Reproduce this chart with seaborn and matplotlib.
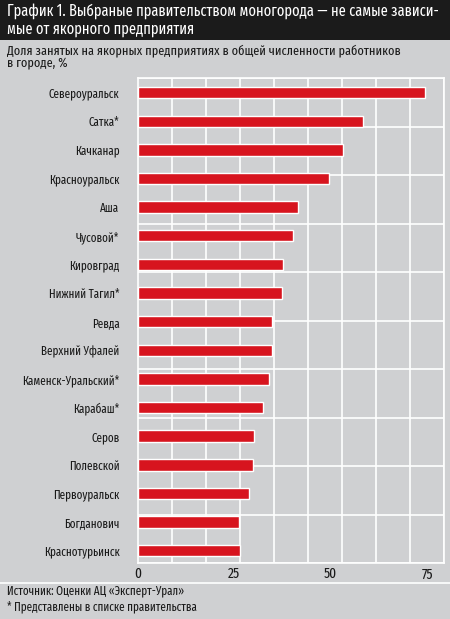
import numpy as np
import pandas as pd
import matplotlib
matplotlib.use("Agg")
import matplotlib.pyplot as plt
import seaborn as sns
from matplotlib.patches import Rectangle

# данные
cities = ["Североуральск", "Сатка*", "Качканар", "Красноуральск", "Аша", "Чусовой*",
          "Кировград", "Нижний Тагил*", "Ревда", "Верхний Уфалей", "Каменск-Уральский*",
          "Карабаш*", "Серов", "Полевской", "Первоуральск", "Богданович", "Краснотурьинск"]
shares = [74.4, 58.5, 53.2, 49.5, 41.6, 40.2, 37.8, 37.4, 34.8, 34.8, 34.0,
          32.6, 30.2, 29.8, 28.8, 26.4, 26.6]
xticks = [0, 25, 50, 75]

title = "График 1. Выбраные правительством моногорода — не самые зависи-\nмые от якорного предприятия"
subtitle = "Доля занятых на якорных предприятиях в общей численности работников\nв городе, %"
source = "Источник: Оценки АЦ «Эксперт-Урал»"
note = "* Представлены в списке правительства"

df = pd.DataFrame({"city": cities, "share": shares})

sns.set_style("white")
plt.rcParams["font.family"] = ["Fira Sans Extra Condensed", "DejaVu Sans"]

bg = "#cfd0d2"
red = "#d7141e"
txt = "#1a1a1a"

fig = plt.figure(figsize=(4.5, 6.19), dpi=100)
fig.patch.set_facecolor(bg)

# шапка и подвал
fig.patches.append(Rectangle((0, 1 - 40 / 619), 1, 40 / 619, transform=fig.transFigure,
                             facecolor="#1b1b1b", edgecolor="none", zorder=0))
fig.lines.append(plt.Line2D([0, 1], [1 - 583 / 619] * 2, transform=fig.transFigure,
                            color="white", lw=1.2))

ax = fig.add_axes([137.5 / 450, 56 / 619, 306.5 / 450, 485 / 619])
ax.set_facecolor(bg)

sns.barplot(data=df, x="share", y="city", orient="h", color=red, width=0.4,
            saturation=1, ax=ax, zorder=3)

xmax = 79.4
ax.set_xlim(0, xmax)
ax.set_ylim(16.43, -0.51)

ax.set_xticks(xticks)
ax.set_xticklabels([str(t) for t in xticks], fontsize=10.5, color=txt)
ax.set_xticks(np.linspace(0, xmax, 10), minor=True)
ax.set_yticks(np.linspace(16.43, -0.51, 11), minor=True)
ax.tick_params(axis="x", which="both", length=0, pad=3)
ax.tick_params(axis="y", which="major", length=0, pad=13, labelsize=8.7, labelcolor=txt)
ax.tick_params(axis="y", which="minor", length=0)
ax.grid(False)
ax.grid(True, which="minor", color="white", lw=1.2, zorder=0)
ax.set_axisbelow(True)
for s in ax.spines.values():
    s.set_color("white")
    s.set_linewidth(1.2)
ax.set_xlabel("")
ax.set_ylabel("")

fig.text(7 / 450, 1 - 3 / 619, title, color="white", fontsize=11.3, va="top",
         ha="left", linespacing=1.12)
fig.text(7 / 450, 1 - 44 / 619, subtitle, color=txt, fontsize=9.6, va="top",
         ha="left", linespacing=1.12)
fig.text(7 / 450, 1 - 585 / 619, source, color=txt, fontsize=8.7, va="top", ha="left")
fig.text(7 / 450, 1 - 600 / 619, note, color=txt, fontsize=8.7, va="top", ha="left")

fig.savefig("out.png", dpi=100, facecolor=fig.get_facecolor())
